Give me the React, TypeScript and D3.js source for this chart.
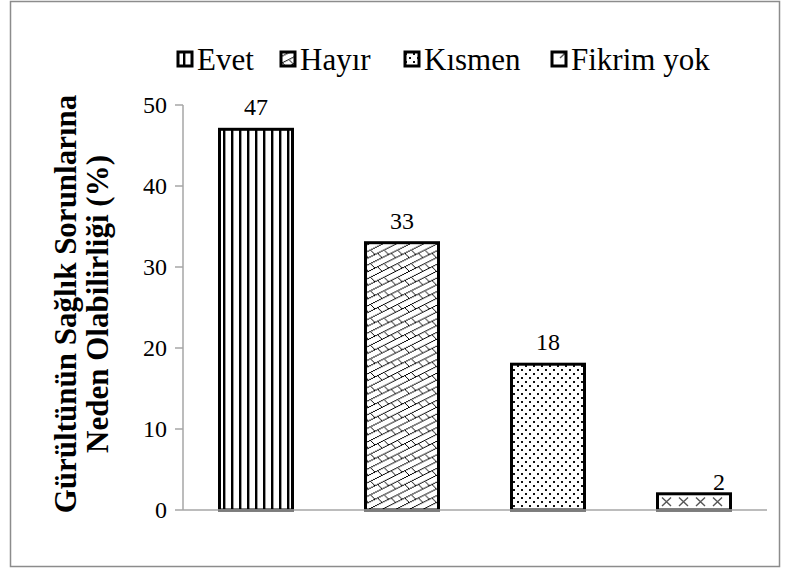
import React from "react";
import * as d3 from "d3";

const categories = ["Evet", "Hayır", "Kısmen", "Fikrim yok"];
const values = [47, 33, 18, 2];
const yTicks = [0, 10, 20, 30, 40, 50];
const patternIds = ["pat-vert", "pat-brick", "pat-dots", "pat-cross"];
const titleLines = ["Gürültünün Sağlık Sorunlarına", "Neden Olabilirliği (%)"];

const W = 790;
const H = 569;
const plot = { left: 183, right: 767, top: 105, bottom: 510 };
const serif = "'Liberation Serif', 'Times New Roman', serif";
const legendX = [178, 281, 405, 552];
// the short last bar has its value label nudged to the right, sitting lower
const labelShift = [
  [0, 0],
  [0, 0],
  [0, 0],
  [25, 10],
];

export default function App() {
  const x = d3
    .scaleBand<string>()
    .domain(categories)
    .range([plot.left, plot.right])
    .paddingInner(0.5)
    .paddingOuter(0.25);
  const y = d3.scaleLinear().domain([0, 50]).range([plot.bottom, plot.top]);

  return (
    <svg
      width={W}
      height={H}
      style={{ position: "absolute", left: 0, top: 0, background: "#fff" }}
      fontFamily={serif}
    >
      <defs>
        <pattern id="pat-vert" width={8} height={8} patternUnits="userSpaceOnUse" x={plot.left}>
          <rect width={8} height={8} fill="#fff" />
          <rect x={0} y={0} width={2.4} height={8} fill="#000" />
        </pattern>
        {/* diagonal brick */}
        <pattern
          id="pat-brick"
          width={16}
          height={16}
          patternUnits="userSpaceOnUse"
          patternTransform="scale(0.85)"
        >
          <rect width={16} height={16} fill="#fff" />
          <path
            d="M0,8 L16,0 M0,16 L16,8 M4,6 L9.33,11.33 M12,10 L17.33,15.33 M-4,10 L1.33,15.33"
            stroke="#000"
            strokeWidth={1.2}
            fill="none"
            shapeRendering="crispEdges"
          />
        </pattern>
        <pattern id="pat-dots" width={8} height={8} patternUnits="userSpaceOnUse">
          <rect width={8} height={8} fill="#fff" />
          <rect x={1} y={1} width={2} height={2} fill="#111" />
          <rect x={5} y={5} width={2} height={2} fill="#111" />
        </pattern>
        <pattern id="pat-cross" width={17} height={16} patternUnits="userSpaceOnUse" x={659} y={496}>
          <rect width={17} height={16} fill="#fff" />
          <path d="M3,1.5 L12,10 M12,1.5 L3,10" stroke="#555" strokeWidth={1.4} fill="none" />
        </pattern>
      </defs>

      <rect x={10.5} y={1.5} width={769} height={565} fill="#fff" stroke="#8c8c8c" strokeWidth={1.5} />

      {/* y axis */}
      <line x1={plot.left} x2={plot.left} y1={y(50)} y2={y(0)} stroke="#a6a6a6" strokeWidth={1.5} />
      {yTicks.map((t) => (
        <g key={t}>
          <line x1={plot.left - 8} x2={plot.left} y1={y(t)} y2={y(t)} stroke="#a6a6a6" strokeWidth={1.5} />
          <text x={plot.left - 16} y={y(t)} dy="0.34em" textAnchor="end" fontSize={24} fill="#000">
            {t}
          </text>
        </g>
      ))}

      {/* bars */}
      {categories.map((c, i) => (
        <g key={c}>
          <rect
            x={x(c)}
            y={y(values[i])}
            width={x.bandwidth()}
            height={y(0) - y(values[i])}
            fill={`url(#${patternIds[i]})`}
            stroke="#000"
            strokeWidth={3}
          />
          <text
            x={(x(c) as number) + x.bandwidth() / 2 + labelShift[i][0]}
            y={y(values[i]) - 14 + labelShift[i][1]}
            textAnchor="middle"
            fontSize={24}
            fill="#000"
          >
            {values[i]}
          </text>
        </g>
      ))}

      {/* x axis */}
      <line x1={plot.left} x2={plot.right} y1={y(0)} y2={y(0)} stroke="#a6a6a6" strokeWidth={1.5} />

      {/* legend */}
      {categories.map((c, i) => (
        <g key={c}>
          <rect
            x={legendX[i]}
            y={52}
            width={14}
            height={14}
            fill={`url(#${patternIds[i]})`}
            stroke="#000"
            strokeWidth={3}
          />
          <text x={legendX[i] + 19} y={70} fontSize={31} fill="#000">
            {c}
          </text>
        </g>
      ))}

      {/* y title */}
      <g transform="translate(0, 304) rotate(-90)">
        {titleLines.map((l, i) => (
          <text
            key={i}
            x={0}
            y={76 + i * 32}
            textAnchor="middle"
            fontSize={31}
            fontWeight="bold"
            fill="#000"
          >
            {l}
          </text>
        ))}
      </g>
    </svg>
  );
}
